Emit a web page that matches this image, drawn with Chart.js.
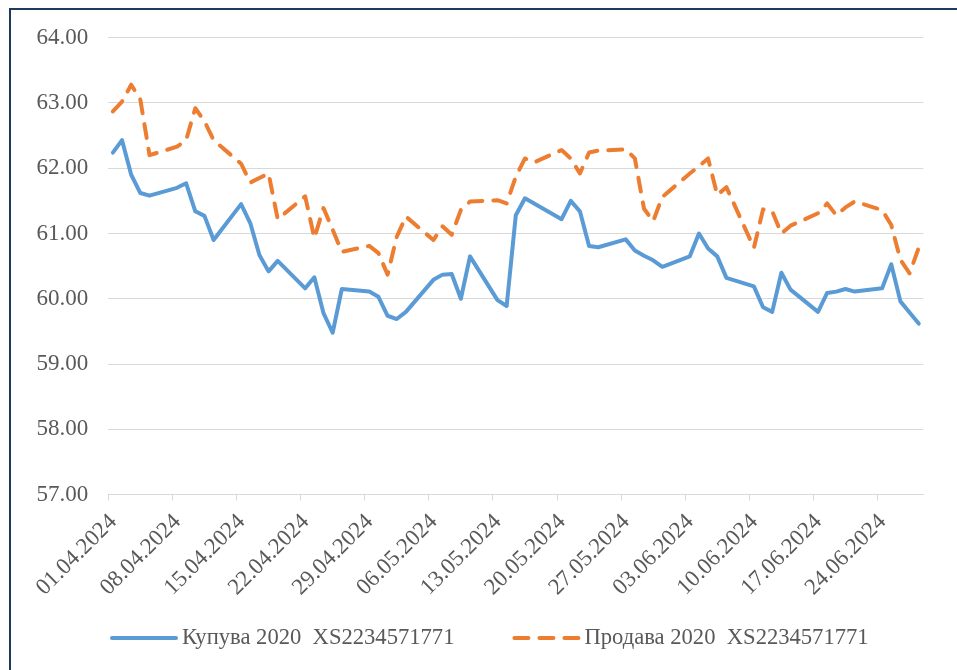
<!DOCTYPE html>
<html>
<head>
<meta charset="utf-8">
<script src="https://cdn.jsdelivr.net/npm/chart.js@4.4.1/dist/chart.umd.min.js"></script>
<style>
  html, body { margin: 0; padding: 0; background: #fff; }
  .frame { position: absolute; left: 9px; top: 8px; width: 1000px; height: 700px;
           border-top: 2px solid #1f3a5f; border-left: 2px solid #1f3a5f; }
  .wrap { position: absolute; left: 0; top: 0; width: 957px; height: 670px; }
</style>
</head>
<body>
<div class="frame"></div>
<div class="wrap"><canvas id="chart"></canvas></div>
<script>
// trading days
const dates = [
  '01.04.2024', '02.04.2024', '03.04.2024', '04.04.2024', '05.04.2024',
  '08.04.2024', '09.04.2024', '10.04.2024', '11.04.2024', '12.04.2024',
  '15.04.2024', '16.04.2024', '17.04.2024', '18.04.2024', '19.04.2024',
  '22.04.2024', '23.04.2024', '24.04.2024', '25.04.2024', '26.04.2024',
  '29.04.2024', '30.04.2024', '01.05.2024', '02.05.2024', '03.05.2024',
  '06.05.2024', '07.05.2024', '08.05.2024', '09.05.2024', '10.05.2024',
  '13.05.2024', '14.05.2024', '15.05.2024', '16.05.2024', '17.05.2024',
  '20.05.2024', '21.05.2024', '22.05.2024', '23.05.2024', '24.05.2024',
  '27.05.2024', '28.05.2024', '29.05.2024', '30.05.2024', '31.05.2024',
  '03.06.2024', '04.06.2024', '05.06.2024', '06.06.2024', '07.06.2024',
  '10.06.2024', '11.06.2024', '12.06.2024', '13.06.2024', '14.06.2024',
  '17.06.2024', '18.06.2024', '19.06.2024', '20.06.2024', '21.06.2024',
  '24.06.2024', '25.06.2024', '26.06.2024', '27.06.2024', '28.06.2024'
];

const buying = [
  62.24, 62.43, 61.90, 61.62, 61.58,
  61.70, 61.77, 61.34, 61.27, 60.90,
  61.45, 61.16, 60.67, 60.42, 60.58,
  60.16, 60.33, 59.78, 59.48, 60.15,
  60.11, 60.03, 59.74, 59.69, 59.80,
  60.29, 60.37, 60.38, 60.00, 60.65,
  59.98, 59.89, 61.28, 61.54, 61.46,
  61.22, 61.50, 61.34, 60.81, 60.79,
  60.91, 60.74, 60.66, 60.59, 60.49,
  60.65, 61.00, 60.77, 60.65, 60.32,
  60.19, 59.87, 59.80, 60.40, 60.14,
  59.80, 60.09, 60.11, 60.15, 60.11,
  60.16, 60.53, 59.96, 59.79, 59.62
];

const selling = [
  62.87, 63.02, 63.28, 63.05, 62.20,
  62.33, 62.43, 62.92, 62.72, 62.43,
  62.07, 61.78, 61.85, 61.92, 61.22,
  61.57, 60.93, 61.39, 61.06, 60.72,
  60.81, 60.70, 60.37, 60.95, 61.26,
  60.90, 61.11, 60.98, 61.36, 61.49,
  61.51, 61.46, 61.87, 62.15, 62.09,
  62.28, 62.15, 61.92, 62.24, 62.27,
  62.29, 62.15, 61.38, 61.19, 61.56,
  61.92, 62.03, 62.15, 61.59, 61.71,
  60.78, 61.37, 61.34, 61.00, 61.12,
  61.31, 61.46, 61.28, 61.40, 61.49,
  61.36, 61.13, 60.60, 60.39, 60.78
];

const tickLabels = [
  '01.04.2024', '08.04.2024', '15.04.2024', '22.04.2024', '29.04.2024',
  '06.05.2024', '13.05.2024', '20.05.2024', '27.05.2024', '03.06.2024',
  '10.06.2024', '17.06.2024', '24.06.2024'
];

const seriesNames = ['Купува 2020  XS2234571771', 'Продава 2020  XS2234571771'];

const FONT = '"Liberation Serif", "Times New Roman", serif';

// days since first date; points sit in the middle of their day slot
function dayOffset(s) {
  const [d, m, y] = s.split('.').map(Number);
  const [d0, m0, y0] = dates[0].split('.').map(Number);
  return Math.round((Date.UTC(y, m - 1, d) - Date.UTC(y0, m0 - 1, d0)) / 86400000);
}
function toPoints(values) {
  return dates.map((d, i) => ({ x: dayOffset(d) + 0.5, y: values[i] }));
}
function labelFor(v) {
  const t = tickLabels.find(l => dayOffset(l) === v);
  return t || '';
}

// legend drawn under the axis, Excel style (line sample + text)
const bottomLegend = {
  id: 'bottomLegend',
  afterDraw(chart) {
    const ctx = chart.ctx;
    const y = 638;
    let x = 112;
    ctx.save();
    ctx.font = '22.6px ' + FONT;
    ctx.textBaseline = 'middle';
    chart.data.datasets.forEach(ds => {
      ctx.beginPath();
      ctx.strokeStyle = ds.borderColor;
      ctx.lineWidth = ds.borderWidth;
      ctx.lineCap = 'round';
      ctx.setLineDash(ds.borderDash || []);
      ctx.moveTo(x, y);
      ctx.lineTo(x + 64, y);
      ctx.stroke();
      ctx.setLineDash([]);
      ctx.fillStyle = '#595959';
      const tx = x + 70;
      ctx.fillText(ds.label, tx, y);
      x = tx + ctx.measureText(ds.label).width + 60;
    });
    ctx.restore();
  }
};

Chart.defaults.font.family = FONT;
Chart.defaults.font.size = 23;
Chart.defaults.color = '#595959';

new Chart(document.getElementById('chart'), {
  type: 'line',
  data: {
    datasets: [
      {
        label: seriesNames[0],
        data: toPoints(buying),
        borderColor: '#5b9bd5',
        backgroundColor: '#5b9bd5',
        borderWidth: 4,
        borderCapStyle: 'round',
        borderJoinStyle: 'round',
        pointRadius: 0,
        tension: 0
      },
      {
        label: seriesNames[1],
        data: toPoints(selling),
        borderColor: '#ed7d31',
        backgroundColor: '#ed7d31',
        borderWidth: 4,
        borderDash: [14, 11],
        borderCapStyle: 'round',
        borderJoinStyle: 'round',
        pointRadius: 0,
        tension: 0
      }
    ]
  },
  options: {
    responsive: true,
    maintainAspectRatio: false,
    animation: false,
    devicePixelRatio: 1,
    layout: {
      padding: { left: 20, right: 33.7, top: 37.7, bottom: 45 }
    },
    scales: {
      x: {
        type: 'linear',
        min: 0,
        max: dayOffset(dates[dates.length - 1]) + 1,
        afterBuildTicks: scale => {
          scale.ticks = tickLabels.map(t => ({ value: dayOffset(t) }));
        },
        afterFit: scale => { scale.height = 130.4; },
        grid: { drawOnChartArea: false, drawTicks: true, tickLength: 6, color: '#d9d9d9' },
        border: { color: '#d9d9d9' },
        ticks: {
          autoSkip: false,
          minRotation: 45,
          maxRotation: 45,
          padding: 8,
          labelOffset: 5,
          callback: v => labelFor(v)
        }
      },
      y: {
        min: 57,
        max: 64,
        afterFit: scale => { scale.width = 88.3; },
        grid: { color: '#d9d9d9', drawTicks: false },
        border: { display: false },
        ticks: {
          stepSize: 1,
          padding: 20,
          callback: v => v.toFixed(2)
        }
      }
    },
    plugins: {
      tooltip: { enabled: false },
      legend: { display: false }
    }
  },
  plugins: [bottomLegend]
});
</script>
</body>
</html>
